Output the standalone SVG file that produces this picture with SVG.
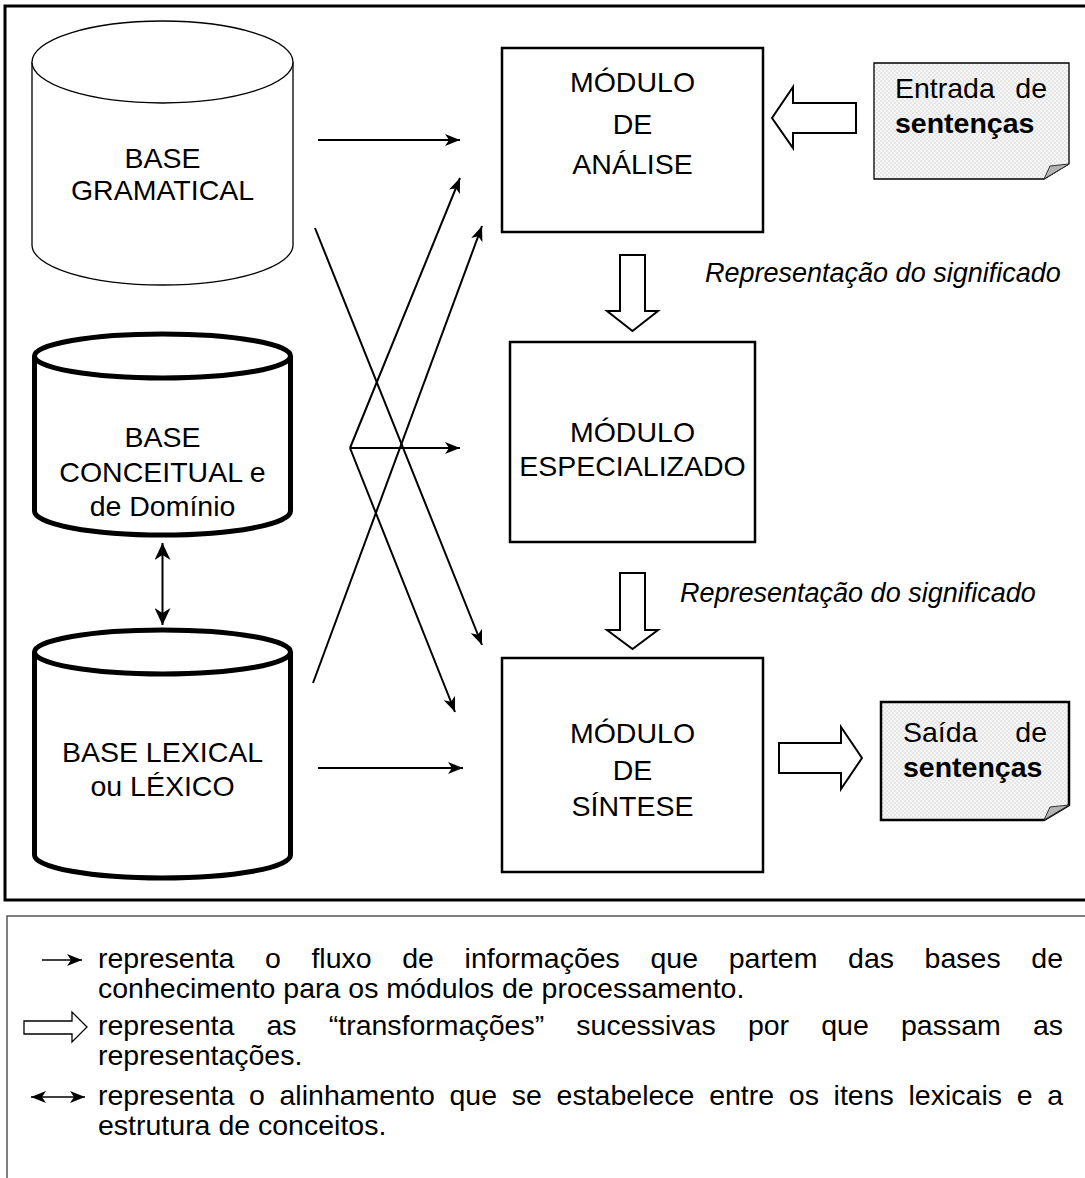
<svg xmlns="http://www.w3.org/2000/svg" width="1085" height="1178" viewBox="0 0 1085 1178">
<style>
text{font-family:"Liberation Sans",Arial,sans-serif;fill:#000}
.t{font-size:28.5px;text-anchor:middle}
.d{font-size:28.5px}
.b{font-weight:bold}
.i{font-size:27px;font-style:italic}
.lg{font-size:28.5px}
.box{fill:#fff;stroke:#000;stroke-width:2.5}
.blk{fill:#fff;stroke:#000;stroke-width:2;stroke-linejoin:miter}
.cyl1{fill:#fff;stroke:#000;stroke-width:1.3}
.cyl2{fill:#fff;stroke:#000;stroke-width:5}
.ln{stroke:#000;stroke-width:2;fill:none}
</style>
<defs>
<marker id="ah" markerUnits="userSpaceOnUse" markerWidth="16" markerHeight="12" refX="15" refY="6" orient="auto">
<path d="M0,0 L15,6 L0,12 L4,6 Z" fill="#000"/>
</marker>
<marker id="ahs" markerUnits="userSpaceOnUse" markerWidth="16" markerHeight="12" refX="1" refY="6" orient="auto">
<path d="M16,0 L1,6 L16,12 L12,6 Z" fill="#000"/>
</marker>
<marker id="bh" markerUnits="userSpaceOnUse" markerWidth="18" markerHeight="16" refX="17" refY="8" orient="auto">
<path d="M0,0 L17,8 L0,16 L5,8 Z" fill="#000"/>
</marker>
<marker id="bhs" markerUnits="userSpaceOnUse" markerWidth="18" markerHeight="16" refX="1" refY="8" orient="auto">
<path d="M18,0 L1,8 L18,16 L13,8 Z" fill="#000"/>
</marker>
<pattern id="chk" width="4" height="4" patternUnits="userSpaceOnUse">
<rect width="4" height="4" fill="#f6f6f6"/>
<rect width="2" height="2" fill="#e6e6e6"/>
<rect x="2" y="2" width="2" height="2" fill="#e6e6e6"/>
</pattern>
</defs>
<rect width="1085" height="1178" fill="#fff"/>
<rect x="5" y="6" width="1090" height="894" fill="none" stroke="#000" stroke-width="3"/>
<path d="M7,1178 V916 H1085" fill="none" stroke="#555" stroke-width="1.5"/>

<g id="base-gramatical">
<path class="cyl1" d="M32,62 V245 A130.5,40 0 0 0 293,245 V62"/>
<ellipse class="cyl1" cx="162.5" cy="62" rx="130.5" ry="41"/>
<text class="t" x="162.5" y="168">BASE</text>
<text class="t" x="162.5" y="200">GRAMATICAL</text>
</g>
<g id="base-conceitual">
<path class="cyl2" d="M34.5,356 V511 A128,24 0 0 0 290.5,511 V356"/>
<ellipse class="cyl2" cx="162.5" cy="356" rx="128" ry="22"/>
<text class="t" x="162.5" y="447">BASE</text>
<text class="t" x="162.5" y="482">CONCEITUAL e</text>
<text class="t" x="162.5" y="516">de Domínio</text>
</g>
<g id="base-lexical">
<path class="cyl2" d="M34.5,652 V855 A128,23 0 0 0 290.5,855 V652"/>
<ellipse class="cyl2" cx="162.5" cy="652" rx="128" ry="22"/>
<text class="t" x="162.5" y="762">BASE LEXICAL</text>
<text class="t" x="162.5" y="796">ou LÉXICO</text>
</g>
<g id="modulo-analise">
<rect class="box" x="502" y="48" width="261" height="184"/>
<text class="t" x="632.5" y="92">MÓDULO</text>
<text class="t" x="632.5" y="134">DE</text>
<text class="t" x="632.5" y="174">ANÁLISE</text>
</g>
<g id="modulo-especializado">
<rect class="box" x="510" y="342" width="245" height="200"/>
<text class="t" x="632.5" y="442">MÓDULO</text>
<text class="t" x="632.5" y="476">ESPECIALIZADO</text>
</g>
<g id="modulo-sintese">
<rect class="box" x="502" y="658" width="261" height="214"/>
<text class="t" x="632.5" y="743">MÓDULO</text>
<text class="t" x="632.5" y="780">DE</text>
<text class="t" x="632.5" y="816">SÍNTESE</text>
</g>
<g id="entrada">
<path d="M874,63 H1069 V164 L1044,179 H874 Z" fill="url(#chk)" stroke="#000" stroke-width="1.3"/>
<path d="M1044,179 L1050,166 L1069,164 Z" fill="#b4b4b4" stroke="#333" stroke-width="1"/>
<text class="d" x="895" y="98">Entrada</text>
<text class="d" x="1047" y="98" text-anchor="end">de</text>
<text class="d b" x="895" y="133">sentenças</text>
</g>
<g id="saida">
<path d="M881,702 H1069 V805 L1044,820 H881 Z" fill="url(#chk)" stroke="#000" stroke-width="2.5"/>
<path d="M1044,820 L1050,807 L1069,805 Z" fill="#b4b4b4" stroke="#333" stroke-width="1"/>
<text class="d" x="903" y="742">Saída</text>
<text class="d" x="1047" y="742" text-anchor="end">de</text>
<text class="d b" x="903" y="777">sentenças</text>
</g>
<g id="labels">
<text class="i" x="705" y="282">Representação do significado</text>
<text class="i" x="680" y="602">Representação do significado</text>
</g>
<g id="connectors">
<line class="ln" x1="318" y1="140" x2="460" y2="140" marker-end="url(#ah)"/>
<line class="ln" x1="318" y1="768" x2="463" y2="768" marker-end="url(#ah)"/>
<line class="ln" x1="315" y1="228" x2="482" y2="645" marker-end="url(#ah)"/>
<line class="ln" x1="350" y1="448" x2="460" y2="178" marker-end="url(#ah)" stroke-width="2.5"/>
<line class="ln" x1="350" y1="448" x2="460" y2="448" marker-end="url(#ah)"/>
<line class="ln" x1="350" y1="448" x2="455" y2="712" marker-end="url(#ah)"/>
<line class="ln" x1="313" y1="683" x2="482" y2="226" marker-end="url(#ah)" stroke-width="1.5"/>
<line class="ln" x1="162.5" y1="543" x2="162.5" y2="625" stroke-width="3.5" marker-start="url(#bhs)" marker-end="url(#bh)"/>
<path class="blk" d="M620,255 H645 V311 H658 L632.5,331 L607,311 H620 Z"/>
<path class="blk" d="M620,573 H645 V630 H658 L632.5,649 L607,630 H620 Z"/>
<path class="blk" d="M856,103 V133 H793 V148 L772,118 L793,87 V103 Z"/>
<path class="blk" d="M779,743 H841 V727 L862,758 L841,789 V773 H779 Z"/>
</g>
<g id="legend">
<line x1="42" y1="960" x2="82" y2="960" stroke="#000" stroke-width="1.3" marker-end="url(#ah)"/>
<path d="M24,1021 H72 V1012 L87,1027 L72,1042 V1034 H24 Z" fill="#fff" stroke="#000" stroke-width="1.3"/>
<line x1="31" y1="1097" x2="85" y2="1097" stroke="#000" stroke-width="1.3" marker-start="url(#ahs)" marker-end="url(#ah)"/>
<text class="lg" x="98" y="968" style="word-spacing:22.73px">representa o fluxo de informações que partem das bases de</text>
<text class="lg" x="98" y="998">conhecimento para os módulos de processamento.</text>
<text class="lg" x="98" y="1035" style="word-spacing:24.27px">representa as “transformações” sucessivas por que passam as</text>
<text class="lg" x="98" y="1065">representações.</text>
<text class="lg" x="98" y="1105" style="word-spacing:6.79px">representa o alinhamento que se estabelece entre os itens lexicais e a</text>
<text class="lg" x="98" y="1135">estrutura de conceitos.</text>
</g>
</svg>
